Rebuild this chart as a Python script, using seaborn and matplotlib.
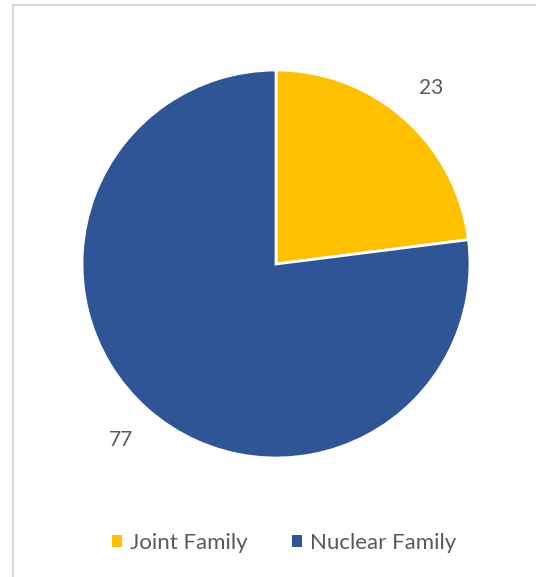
import matplotlib
matplotlib.use("Agg")
import matplotlib.pyplot as plt
import matplotlib.patches as mpatches
import seaborn as sns

sns.set_theme(style="white")
plt.rcParams['font.family'] = ['Lato', 'DejaVu Sans']

categories = ['Joint Family', 'Nuclear Family']
values = [23, 77]
colors = ['#FFC000', '#2F5597']
text_color = '#595959'

fig = plt.figure(figsize=(5.36, 5.77), dpi=100)
fig.patch.set_facecolor('white')

# light chart-area border (runs off right/bottom like the screenshot)
fig.patches.append(mpatches.Rectangle((13 / 536, -0.05), 1.1, 1 - 5 / 577 + 0.05,
                                      transform=fig.transFigure, fill=False,
                                      edgecolor='#D9D9D9', linewidth=1.5))

ax = fig.add_axes([82 / 536, 1 - 458 / 577, 388 / 536, 388 / 577])
wedges, texts = ax.pie(values, colors=colors, labels=[str(v) for v in values],
                       startangle=90, counterclock=False, labeldistance=1.21,
                       wedgeprops={'edgecolor': 'white', 'linewidth': 2},
                       textprops={'color': text_color, 'fontsize': 15})
for t in texts:
    t.set_ha('center')
    t.set_va('center')
ax.set_xlim(-1, 1)
ax.set_ylim(-1, 1)
ax.set_aspect('equal')
ax.axis('off')

handles = [mpatches.Patch(facecolor=c, edgecolor='none') for c in colors]
fig.legend(handles, categories, loc='center', bbox_to_anchor=(0.53, 1 - 543 / 577),
           ncol=2, frameon=False, handlelength=0.45, handleheight=0.45,
           handletextpad=0.35, columnspacing=2.0, labelcolor=text_color, fontsize=16)

fig.savefig('out.png', dpi=100, facecolor='white')
